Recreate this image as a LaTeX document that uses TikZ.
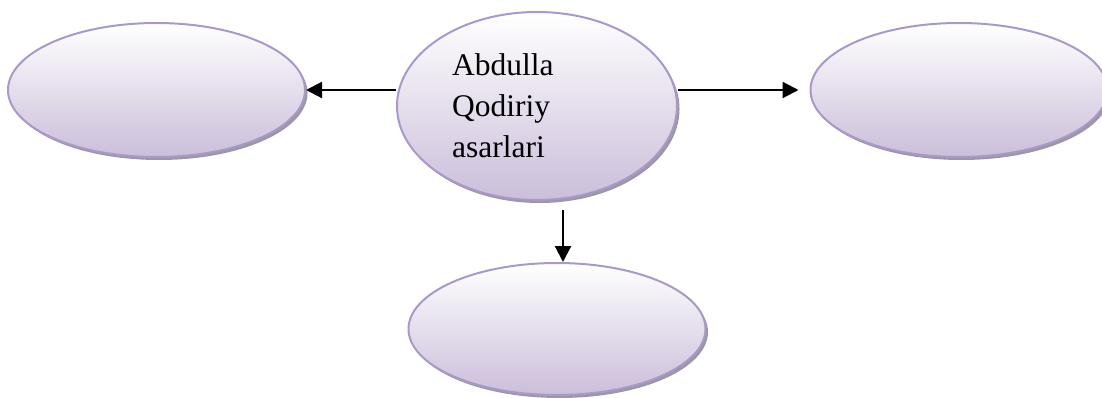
\documentclass[tikz,border=0pt]{standalone}
\usepackage{fontspec}
\setmainfont{Liberation Serif}
\usetikzlibrary{shapes.geometric,arrows.meta,shadows}
\definecolor{edgeviolet}{HTML}{A999C9}
\definecolor{fillbottom}{HTML}{CBBEDA}
\definecolor{shadowgray}{HTML}{9C96A6}
\begin{document}
\begin{tikzpicture}[x=1pt,y=-1pt,
  bubble/.style={ellipse, inner sep=0pt, draw=edgeviolet, line width=2pt,
    top color=white, bottom color=fillbottom,
    drop shadow={shadow xshift=2.5pt, shadow yshift=-3pt, fill=shadowgray, opacity=1}},
  link/.style={line width=2.2pt, -{Triangle[length=16pt,width=16pt]}}]
\useasboundingbox (0,0) rectangle (1102,398);
\node[bubble, minimum width=280pt, minimum height=188pt] (c) at (537,106) {};
\node[bubble, minimum width=297pt, minimum height=134pt] (l) at (156.5,90) {};
\node[bubble, minimum width=297pt, minimum height=134pt] (r) at (959,90) {};
\node[bubble, minimum width=297pt, minimum height=132pt] (b) at (557,329) {};
\node[anchor=base west, align=left, inner sep=0pt, font=\fontsize{31.5}{41}\selectfont] (t) at (452,158)
  {Abdulla\\Qodiriy\\asarlari};
\coordinate (s) at (563,210);
\draw[link] (l.east -| c.west) -- (l.east);
\draw[link] (r.west -| c.east) -- ([xshift=-11pt]r.west);
\draw[link] (s) -- (s |- b.north);
\end{tikzpicture}
\end{document}
